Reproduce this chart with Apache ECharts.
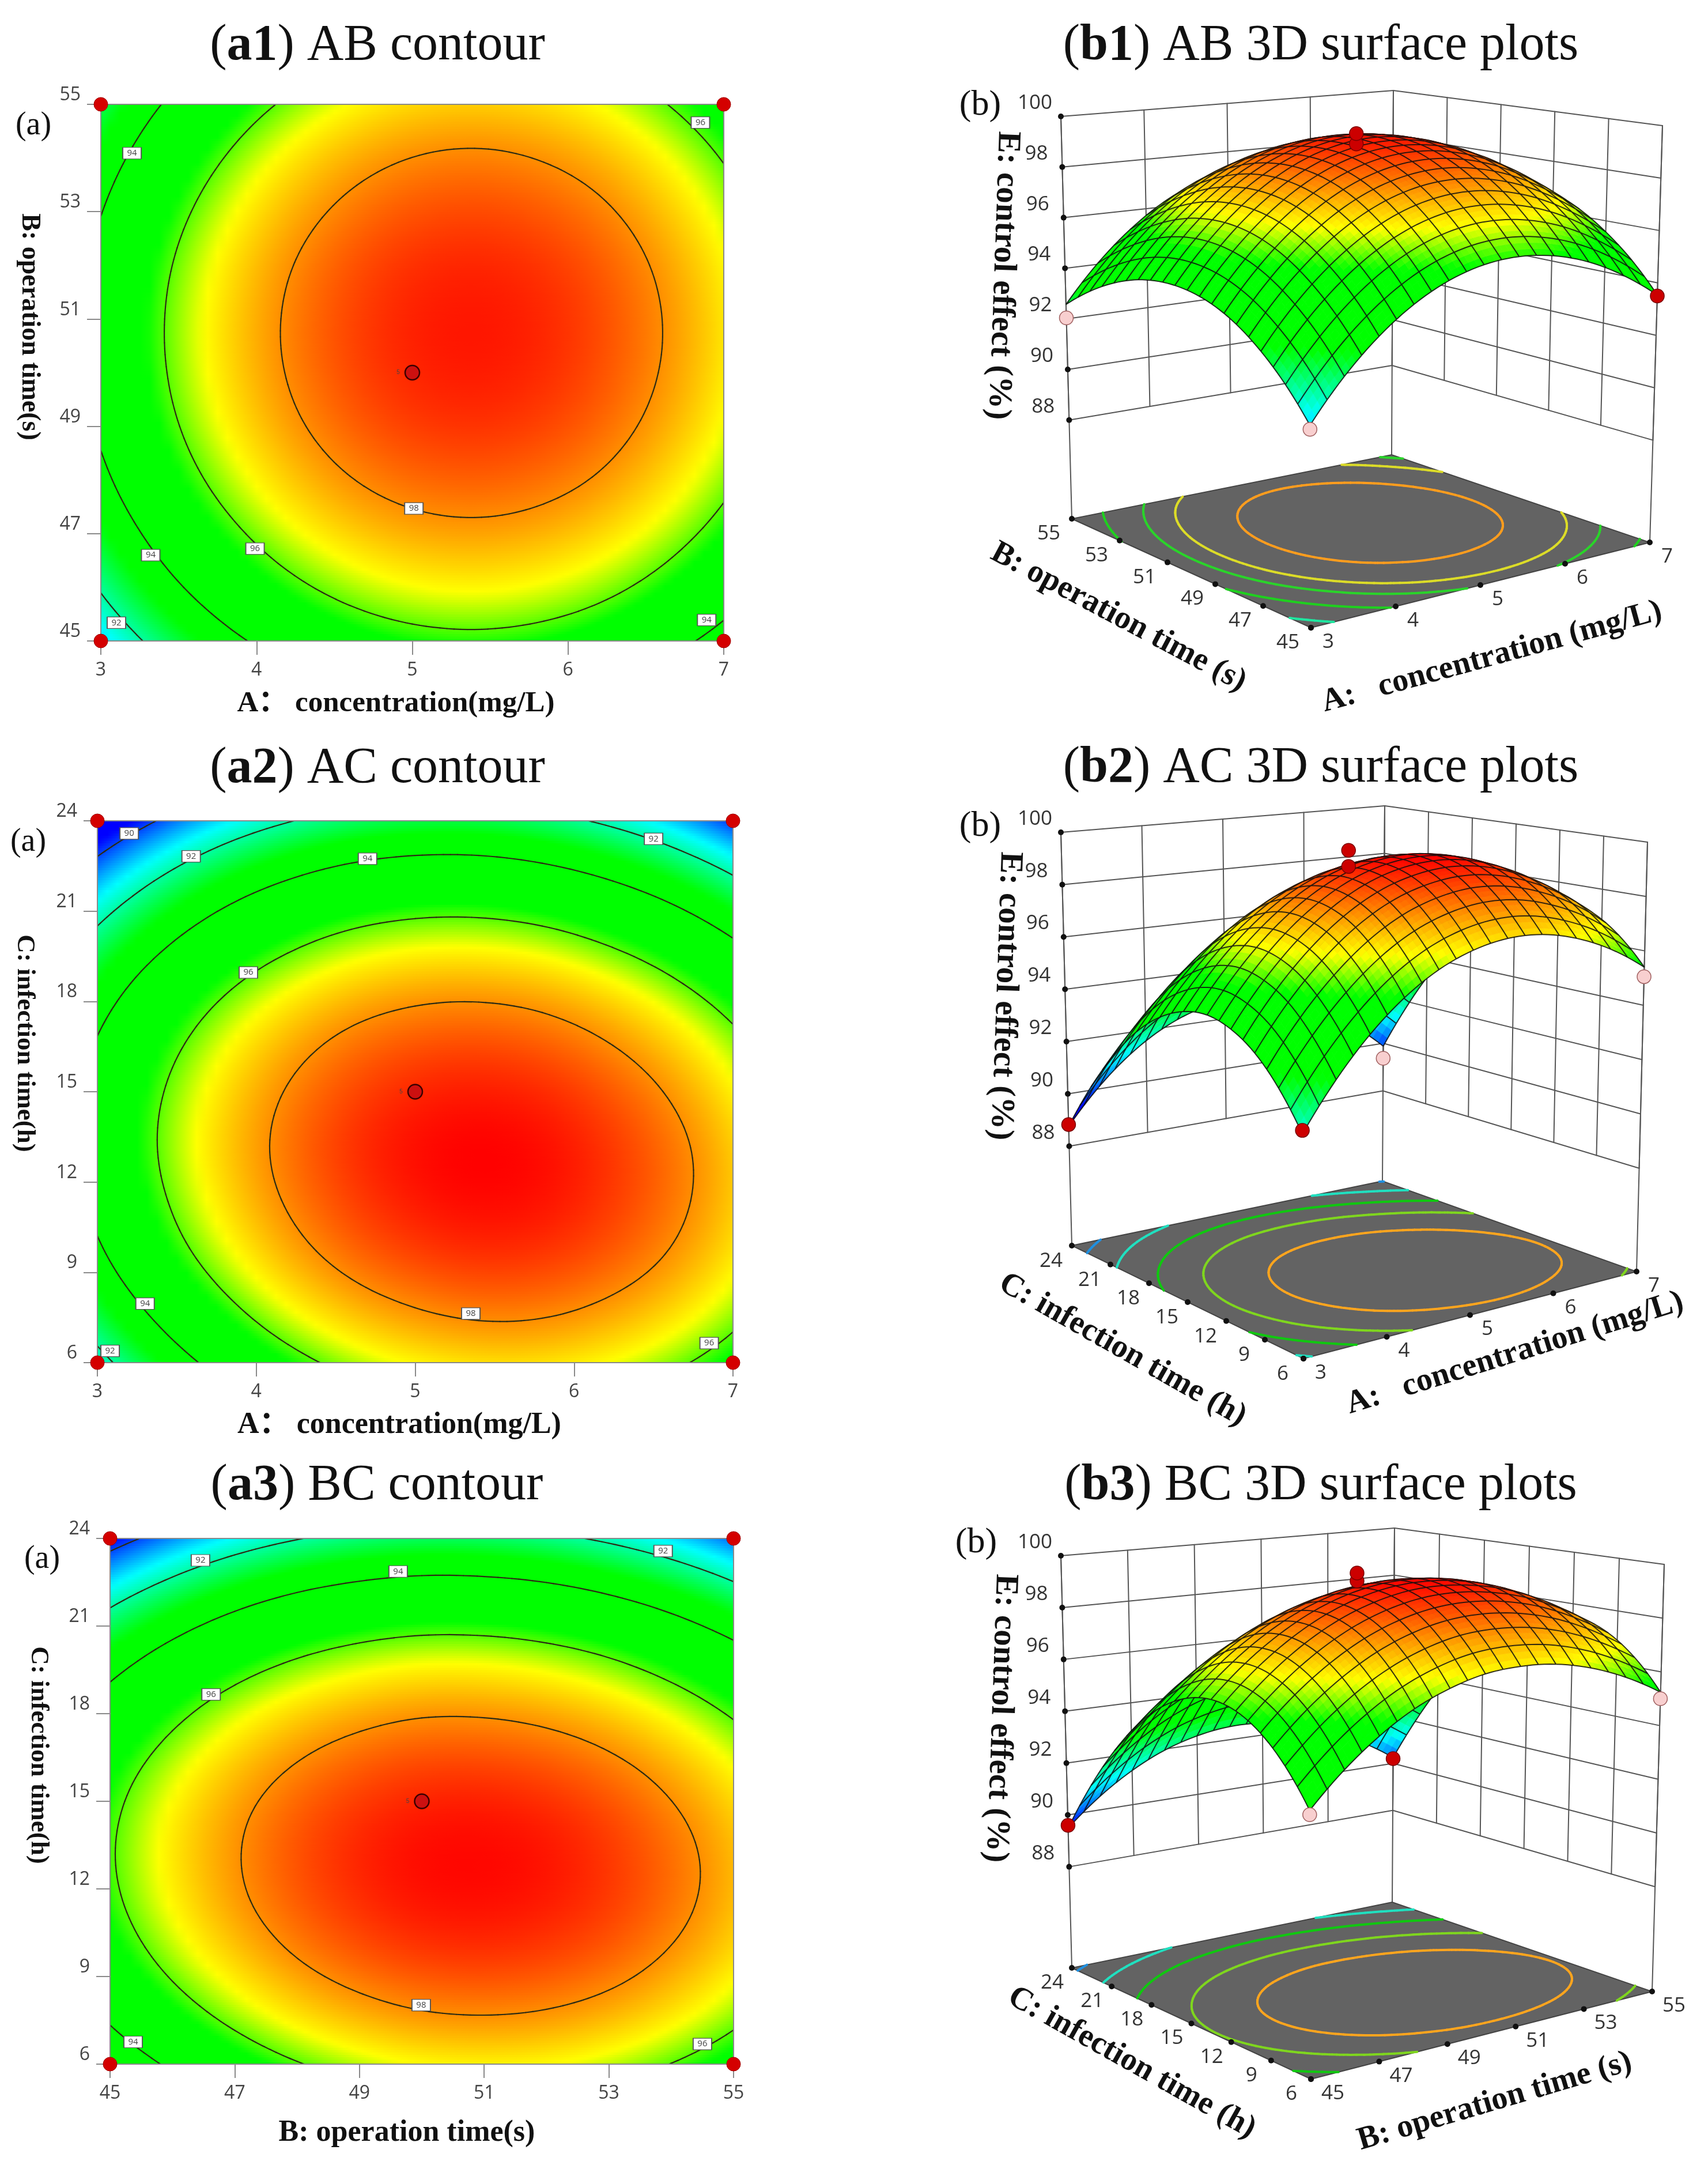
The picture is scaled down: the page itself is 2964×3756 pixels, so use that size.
<!DOCTYPE html>
<html><head><meta charset="utf-8">
<script src="https://cdn.jsdelivr.net/npm/echarts@6/dist/echarts.min.js"></script>
<style>html,body{margin:0;padding:0;background:#fff}#c{width:2964px;height:3756px}</style></head>
<body><div id="c"></div>
<script>
// ---------- values ----------
const ticksA=[3,4,5,6,7];
const ticksB=[45,47,49,51,53,55];
const ticksC=[6,9,12,15,18,21,24];
const ticksE=[88,90,92,94,96,98,100];
// response E on an 11x11 lattice: rows go up the second factor, columns along the first
const gridAB=[
[90.98,92.45,93.64,94.57,95.23,95.62,95.74,95.59,95.18,94.49,93.54],
[92.11,93.58,94.77,95.70,96.36,96.75,96.87,96.72,96.31,95.62,94.67],
[93.01,94.48,95.67,96.60,97.26,97.65,97.77,97.62,97.21,96.52,95.57],
[93.71,95.18,96.37,97.30,97.96,98.35,98.47,98.32,97.91,97.22,96.27],
[94.19,95.66,96.85,97.78,98.44,98.83,98.95,98.80,98.39,97.70,96.75],
[94.45,95.92,97.11,98.04,98.70,99.09,99.21,99.06,98.65,97.96,97.01],
[94.50,95.97,97.16,98.09,98.75,99.14,99.26,99.11,98.70,98.01,97.06],
[94.34,95.81,97.00,97.93,98.59,98.98,99.10,98.95,98.54,97.85,96.90],
[93.96,95.43,96.62,97.55,98.21,98.60,98.72,98.57,98.16,97.47,96.52],
[93.37,94.84,96.03,96.96,97.62,98.01,98.13,97.98,97.57,96.88,95.93],
[92.57,94.04,95.23,96.16,96.82,97.21,97.33,97.18,96.77,96.08,95.13]];
const gridAC=[
[91.58,93.18,94.51,95.57,96.36,96.87,97.12,97.10,96.80,96.24,95.40],
[92.84,94.41,95.71,96.75,97.51,97.99,98.22,98.17,97.84,97.26,96.39],
[93.77,95.32,96.59,97.60,98.34,98.79,98.99,98.91,98.56,97.95,97.05],
[94.34,95.86,97.11,98.09,98.80,99.23,99.40,99.30,98.92,98.28,97.36],
[94.59,96.08,97.30,98.25,98.94,99.34,99.48,99.35,98.94,98.28,97.33],
[94.47,95.94,97.13,98.06,98.71,99.09,99.20,99.05,98.61,97.92,96.94],
[94.02,95.46,96.63,97.53,98.16,98.50,98.59,98.41,97.95,97.23,96.23],
[93.23,94.64,95.78,96.65,97.25,97.57,97.63,97.43,96.94,96.19,95.16],
[92.08,93.46,94.58,95.42,96.00,96.29,96.32,96.09,95.57,94.80,93.74],
[90.59,91.95,93.04,93.85,94.40,94.67,94.68,94.41,93.87,93.07,91.99],
[88.76,90.09,91.15,91.94,92.46,92.70,92.68,92.39,91.82,90.99,89.88]];
const gridBC=[
[93.04,94.21,95.17,95.93,96.46,96.80,96.90,96.81,96.50,95.98,95.24],
[94.29,95.45,96.40,97.14,97.66,97.98,98.07,97.96,97.64,97.10,96.35],
[95.18,96.33,97.26,97.99,98.50,98.80,98.88,98.75,98.42,97.86,97.10],
[95.72,96.85,97.77,98.48,98.97,99.26,99.32,99.18,98.84,98.27,97.49],
[95.90,97.02,97.92,98.62,99.10,99.37,99.42,99.27,98.90,98.32,97.53],
[95.72,96.83,97.72,98.40,98.86,99.12,99.16,98.99,98.61,98.01,97.21],
[95.19,96.27,97.15,97.82,98.27,98.52,98.53,98.35,97.96,97.35,96.53],
[94.30,95.37,96.24,96.89,97.32,97.56,97.56,97.36,96.96,96.33,95.49],
[93.05,94.11,94.96,95.60,96.02,96.24,96.23,96.02,95.60,94.95,94.10],
[91.45,92.49,93.33,93.95,94.35,94.56,94.53,94.31,93.87,93.22,92.35],
[89.49,90.52,91.34,91.95,92.34,92.53,92.49,92.25,91.80,91.13,90.25]];
const levelsAB=[92,94,96,98];
const levelsAC=[90,92,94,96,98];
const levelsBC=[90,92,94,96,98];
const labelsAB=[[3.2,54.09,94],[6.85,54.66,96],[5.01,47.47,98],[3.99,46.72,96],[3.32,46.6,94],[3.1,45.34,92],[6.89,45.39,94]];
const labelsAC=[[3.2,23.58,90],[3.59,22.82,92],[4.7,22.74,94],[6.5,23.4,92],[3.95,18.96,96],[5.35,7.63,98],[3.3,7.96,94],[3.08,6.39,92],[6.85,6.65,96]];
const labelsBC=[[46.45,23.25,92],[49.62,22.87,94],[53.87,23.57,92],[46.62,18.66,96],[49.99,8.02,98],[45.37,6.76,94],[54.5,6.69,96]];
const floorLevelsAB=[92,94,95.5,96.5,98];
const floorLevelsAC=[90,92,94,95.8,97.75];
const floorLevelsBC=[90,92,94,96,97.75];
// design points on the 3D plots: first factor, second factor, E, above the surface (1) or below (0)
const pointsAB=[[5,50,99.2,1],[5,50,99.6,1],[3,45,90.85,0],[3,55,92.04,0],[7,45,93.5,1]];
const pointsAC=[[5,15,99.0,1],[5,15,99.6,1],[3,6,91.7,1],[3,24,88.83,1],[7,6,95.05,0],[7,24,89.37,0]];
const pointsBC=[[50,15,99.3,1],[50,15,99.6,1],[45,6,92.9,0],[45,24,89.6,1],[55,6,95.0,0],[55,24,90.2,1]];

// ---------- colour scale ----------
const stops=[[89.5,[0,0,255]],[91.3,[0,255,255]],[93.2,[0,255,0]],[95.6,[0,255,0]],[96.8,[255,255,0]],[99.5,[255,0,0]]];
function colorOf(v){
  if(v<=stops[0][0])return 'rgb(0,0,255)';
  for(let i=1;i<stops.length;i++){
    if(v<=stops[i][0]){
      const t=(v-stops[i-1][0])/(stops[i][0]-stops[i-1][0]),a=stops[i-1][1],b=stops[i][1];
      return 'rgb('+[0,1,2].map(k=>Math.round(a[k]+(b[k]-a[k])*t)).join(',')+')';
    }
  }
  return 'rgb(255,0,0)';
}
// ---------- smooth shading between lattice values ----------
function gv(g,i,j){
  if(j<0)return 3*gv(g,i,0)-3*gv(g,i,1)+gv(g,i,2);
  if(j>10)return 3*gv(g,i,10)-3*gv(g,i,9)+gv(g,i,8);
  if(i<0)return 3*g[j][0]-3*g[j][1]+g[j][2];
  if(i>10)return 3*g[j][10]-3*g[j][9]+g[j][8];
  return g[j][i];
}
function cr(a,b,c,d,t){return b+.5*t*(c-a+t*(2*a-5*b+4*c-d+t*(3*(b-c)+d-a)));}
function field(g,u,v){
  const fx=Math.min(u*10,9.9999),fy=Math.min(v*10,9.9999),i=Math.floor(fx),j=Math.floor(fy),tx=fx-i,ty=fy-j;
  const r=[];
  for(let k=-1;k<=2;k++)r.push(cr(gv(g,i-1,j+k),gv(g,i,j+k),gv(g,i+1,j+k),gv(g,i+2,j+k),tx));
  return cr(r[0],r[1],r[2],r[3],ty);
}
function isoSegments(g,lvl,n){
  const level=lvl+0.00137; // keeps a lattice value from sitting exactly on the level
  const seg=[],val=[];
  for(let j=0;j<=n;j++){val.push([]);for(let i=0;i<=n;i++)val[j].push(field(g,i/n,j/n));}
  for(let j=0;j<n;j++)for(let i=0;i<n;i++){
    const a=val[j][i],b=val[j][i+1],c=val[j+1][i+1],d=val[j+1][i],p=[];
    const u0=i/n,u1=(i+1)/n,v0=j/n,v1=(j+1)/n;
    if((a-level)*(b-level)<0)p.push([u0+(level-a)/(b-a)/n,v0]);
    if((b-level)*(c-level)<0)p.push([u1,v0+(level-b)/(c-b)/n]);
    if((d-level)*(c-level)<0)p.push([u0+(level-d)/(c-d)/n,v1]);
    if((a-level)*(d-level)<0)p.push([u0,v0+(level-a)/(d-a)/n]);
    if(p.length>=2)seg.push([p[0],p[1]]);
    if(p.length===4)seg.push([p[2],p[3]]);
  }
  return seg;
}
// ---------- layout ----------
const serif='"Liberation Serif","Noto Sans CJK SC",serif';
const sans='"Open Sans","Noto Sans",sans-serif';
const RED='#d40000';
const panels2d=[
 {g:gridAB,levels:levelsAB,labels:labelsAB,xt:ticksA,yt:ticksB,box:[175,181,1256,1112],center:[5,50]},
 {g:gridAC,levels:levelsAC,labels:labelsAC,xt:ticksA,yt:ticksC,box:[169,1424,1272,2364],center:[5,15]},
 {g:gridBC,levels:levelsBC,labels:labelsBC,xt:ticksB,yt:ticksC,box:[191,2669,1273,3581],center:[50,15]}
];
const panels3d=[
 {g:gridAB,ut:ticksA,vt:ticksB,pts:pointsAB,levels:floorLevelsAB,zf:84.1,
  colors:['#1fe6a0','#1fd01f','#2ad42a','#dcdc28','#ff9d1e'],
  F0:[2275,1089],R0:[2863,941],L0:[1860,900],K0:[2415,789],F1:[2271,278],R1:[2885,218],L1:[1841,202],K1:[2418,157],
  uo:[30,25],vo:[-40,26]},
 {g:gridAC,ut:ticksA,vt:ticksC,pts:pointsAC,levels:floorLevelsAC,zf:84.2,
  colors:['#2090e0','#20e0c0','#10c810','#7fd61e','#ffa51e'],
  F0:[2262,2357],R0:[2840,2206],L0:[1860,2161],K0:[2399,2049],F1:[2258,1523],R1:[2859,1461],L1:[1841,1444],K1:[2403,1398],
  uo:[30,25],vo:[-36,27]},
 {g:gridBC,ut:ticksB,vt:ticksC,pts:pointsBC,levels:floorLevelsBC,zf:84.1,
  colors:['#2090e0','#20e0c0','#10c810','#7fd61e','#ffa51e'],
  F0:[2275,3607],R0:[2867,3455],L0:[1860,3414],K0:[2416,3300],F1:[2271,2778],R1:[2888,2714],L1:[1841,2699],K1:[2420,2651],
  uo:[38,25],vo:[-34,26]}
];
function texts(){
  const T=(text,x,y,size,deg,bold,rich)=>({type:'text',x,y,rotation:(deg||0)*Math.PI/180,z:50,
    style:{text,fontFamily:serif,fontSize:size,fontWeight:bold?'bold':'normal',fill:'#111',align:'center',verticalAlign:'middle',rich}});
  const title=(tag,rest,x,y)=>T('({b|'+tag+'}) '+rest,x,y,88,0,false,{b:{fontFamily:serif,fontSize:88,fontWeight:'bold',fill:'#111'}});
  return [
   title('a1','AB contour',655,80),title('a2','AC contour',655,1334),title('a3','BC contour',654,2578),
   title('b1','AB 3D surface plots',2292,80),title('b2','AC 3D surface plots',2292,1333),title('b3','BC 3D surface plots',2292,2578),
   T('(a)',58,218,56),T('(a)',49,1461,56),T('(a)',73,2705,56),
   T('(b)',1701,183,62),T('(b)',1701,1434,62),T('(b)',1694,2677,62),
   T('B: operation time(s)',51,567,46,-90,true),T('A： concentration(mg/L)',687,1221,51,0,true),
   T('C: infection time(h)',43,1810,45,-90,true),T('A： concentration(mg/L)',693,2473,52,0,true),
   T('C: infection time(h)',67,3045,45,-90,true),T('B: operation time(s)',706,3701,52,0,true),
   T('E: control effect (%)',1740,478,57,-92,true),T('E: control effect (%)',1744,1728,57,-92,true),T('E: control effect (%)',1736,2981,57,-92,true),
   T('B: operation time (s)',1941,1071,56,-28,true),T('A:   concentration (mg/L)',2589,1140,56,15.3,true),
   T('C: infection time (h)',1948,2342,56,-29.6,true),T('A:   concentration (mg/L)',2629,2348,56,17.3,true),
   T('C: infection time (h)',1964,3579,56,-29.3,true),T('B: operation time (s)',2594,3646,56,16.4,true)
  ];
}
// ---------- option ----------
const grids=[],xAxes=[],yAxes=[],series=[];
panels2d.forEach((p,k)=>{
  const [L,T,R,B]=p.box;
  const xMin=p.xt[0],xMax=p.xt[p.xt.length-1],yMin=p.yt[0],yMax=p.yt[p.yt.length-1];
  grids.push({left:L,top:T,width:R-L,height:B-T,show:true,borderColor:'#8a8a8a',borderWidth:2,backgroundColor:'rgba(0,0,0,0)',z:5});
  const ax=(vals)=>({type:'value',scale:true,splitLine:{show:false},
    axisLine:{show:true,onZero:false,lineStyle:{color:'#8a8a8a',width:2}},
    axisTick:{show:true,length:24,customValues:vals,lineStyle:{color:'#8a8a8a',width:2}},
    axisLabel:{customValues:vals,margin:35,color:'#444',fontFamily:sans,fontSize:32,showMinLabel:true,showMaxLabel:true}});
  const xa=ax(p.xt);xa.min=xMin;xa.max=xMax;xa.gridIndex=k;xa.z=6;
  const ya=ax(p.yt);ya.min=yMin;ya.max=yMax;ya.gridIndex=k;ya.z=6;ya.axisLabel.verticalAlign='bottom';
  xAxes.push(xa);yAxes.push(ya);
  const strips=[];const NS=220,STOPS=64;
  for(let s=0;s<NS;s++)strips.push([s]);
  series.push({type:'custom',xAxisIndex:k,yAxisIndex:k,coordinateSystem:'cartesian2d',z:2,clip:true,animation:false,silent:true,progressive:0,
    data:strips,encode:{x:[],y:[]},
    renderItem(params,api){
      const s=api.value(0),v0=s/NS,v1=(s+1)/NS,vm=(v0+v1)/2;
      const a=api.coord([xMin,yMin+(yMax-yMin)*v1]),b=api.coord([xMax,yMin+(yMax-yMin)*v0]);
      const cs=[];for(let i=0;i<=STOPS;i++)cs.push({offset:i/STOPS,color:colorOf(field(p.g,i/STOPS,vm))});
      return {type:'rect',shape:{x:a[0],y:a[1]-.6,width:b[0]-a[0],height:b[1]-a[1]+1.2},
        style:{fill:new echarts.graphic.LinearGradient(0,0,1,0,cs)}};
    }});
  series.push({type:'custom',xAxisIndex:k,yAxisIndex:k,coordinateSystem:'cartesian2d',z:3,clip:true,animation:false,silent:true,progressive:0,
    data:p.levels.map(l=>[l]),encode:{x:[],y:[]},
    renderItem(params,api){
      const level=api.value(0);
      const ch=isoSegments(p.g,level,90).map(s=>{
        const a=api.coord([xMin+(xMax-xMin)*s[0][0],yMin+(yMax-yMin)*s[0][1]]);
        const b=api.coord([xMin+(xMax-xMin)*s[1][0],yMin+(yMax-yMin)*s[1][1]]);
        return {type:'line',shape:{x1:a[0],y1:a[1],x2:b[0],y2:b[1]},style:{stroke:'#2c2c14',lineWidth:2.2,lineCap:'round'}};
      });
      return {type:'group',children:ch};
    }});
  series.push({type:'scatter',xAxisIndex:k,yAxisIndex:k,z:7,silent:true,animation:false,symbol:'rect',symbolSize:[32,20],
    itemStyle:{color:'#fff',borderColor:'#555',borderWidth:1.5,opacity:1},
    label:{show:true,position:'inside',formatter:q=>q.value[2],fontSize:15,color:'#444',fontFamily:sans},
    data:p.labels});
  series.push({type:'scatter',xAxisIndex:k,yAxisIndex:k,z:8,silent:true,animation:false,clip:false,symbol:'circle',symbolSize:24,
    itemStyle:{color:RED,borderColor:'#a00000',borderWidth:1,opacity:1},
    data:[[xMin,yMin],[xMin,yMax],[xMax,yMin],[xMax,yMax]]});
  series.push({type:'scatter',xAxisIndex:k,yAxisIndex:k,z:8,silent:true,animation:false,symbol:'circle',symbolSize:25,
    itemStyle:{color:'#cc1010',borderColor:'#3a0000',borderWidth:2.5,opacity:1},
    label:{show:true,position:'left',formatter:'5',fontSize:10,color:'#444',distance:8},
    data:[p.center]});
});
// a hidden full-page cartesian grid carries the projected 3D marks
const PX=panels2d.length;
grids.push({left:0,top:0,width:2964,height:3756,show:false});
xAxes.push({type:'value',min:0,max:2964,show:false,gridIndex:PX});
yAxes.push({type:'value',min:0,max:3756,inverse:true,show:false,gridIndex:PX});
function projector(p){
  return (u,v,z)=>{
    const w=(z-p.zf)/(100-p.zf),a=(1-u)*(1-v),b=u*(1-v),c=(1-u)*v,d=u*v;
    const f=i=>(1-w)*(a*p.F0[i]+b*p.R0[i]+c*p.L0[i]+d*p.K0[i])+w*(a*p.F1[i]+b*p.R1[i]+c*p.L1[i]+d*p.K1[i]);
    return [f(0),f(1)];
  };
}
panels3d.forEach(p=>{
  const P=projector(p);
  const uMin=p.ut[0],uMax=p.ut[p.ut.length-1],vMin=p.vt[0],vMax=p.vt[p.vt.length-1];
  const fu=t=>(t-uMin)/(uMax-uMin),fv=t=>(t-vMin)/(vMax-vMin);
  const base={type:'custom',xAxisIndex:PX,yAxisIndex:PX,coordinateSystem:'cartesian2d',clip:false,animation:false,silent:true,progressive:0,encode:{x:[],y:[]}};
  // walls, floor, floor contours
  series.push(Object.assign({},base,{z:20,data:[[0]],renderItem(params,api){
    const C=(u,v,z)=>api.coord(P(u,v,z));
    const ch=[];
    const L=(a,b,c,w)=>ch.push({type:'line',shape:{x1:a[0],y1:a[1],x2:b[0],y2:b[1]},style:{stroke:c||'#555',lineWidth:w||2,lineCap:'round'}});
    ticksE.forEach(z=>{L(C(0,1,z),C(1,1,z));L(C(1,1,z),C(1,0,z));});
    p.ut.forEach(t=>L(C(fu(t),1,88),C(fu(t),1,100)));
    p.vt.forEach(t=>L(C(1,fv(t),88),C(1,fv(t),100)));
    L(C(0,1,p.zf),C(0,1,100));L(C(1,1,p.zf),C(1,1,100));L(C(1,0,p.zf),C(1,0,100));
    ch.push({type:'polygon',shape:{points:[C(0,0,p.zf),C(1,0,p.zf),C(1,1,p.zf),C(0,1,p.zf)]},style:{fill:'#636363',stroke:'#444',lineWidth:2}});
    p.levels.forEach((lv,i)=>{
      isoSegments(p.g,lv,80).forEach(s=>L(C(s[0][0],s[0][1],p.zf),C(s[1][0],s[1][1],p.zf),p.colors[i],4));
    });
    const dot=q=>ch.push({type:'circle',shape:{cx:q[0],cy:q[1],r:5},style:{fill:'#111'}});
    ticksE.forEach(z=>dot(C(0,1,z)));
    p.ut.forEach(t=>dot(C(fu(t),0,p.zf)));
    p.vt.forEach(t=>dot(C(0,fv(t),p.zf)));
    return {type:'group',children:ch};
  }}));
  // surface, back to front
  const NC=20,SUB=3,cells=[];
  for(let j=0;j<NC;j++)for(let i=0;i<NC;i++)cells.push([i,j]);
  cells.sort((a,b)=>(b[0]+b[1])-(a[0]+a[1]));
  series.push(Object.assign({},base,{z:21,data:cells,renderItem(params,api){
    const i=api.value(0),j=api.value(1),ch=[];
    const S=(u,v)=>api.coord(P(u,v,field(p.g,u,v)));
    for(let a=0;a<SUB;a++)for(let b=0;b<SUB;b++){
      const u0=(i+a/SUB)/NC,u1=(i+(a+1)/SUB)/NC,v0=(j+b/SUB)/NC,v1=(j+(b+1)/SUB)/NC;
      const col=colorOf(field(p.g,(u0+u1)/2,(v0+v1)/2));
      ch.push({type:'polygon',shape:{points:[S(u0,v0),S(u1,v0),S(u1,v1),S(u0,v1)]},style:{fill:col,stroke:col,lineWidth:.8}});
    }
    const E=(f)=>{const pts=[];for(let t=0;t<=SUB;t++)pts.push(f(t/SUB));
      ch.push({type:'polyline',shape:{points:pts},style:{stroke:'rgba(15,15,15,.85)',lineWidth:2,fill:null}});};
    const U=(i+1)/NC,V=(j+1)/NC;
    E(t=>S(U,(j+t)/NC));E(t=>S((i+t)/NC,V));
    if(i===0)E(t=>S(0,(j+t)/NC));
    if(j===0)E(t=>S((i+t)/NC,0));
    return {type:'group',children:ch};
  }}));
  // design points
  series.push(Object.assign({},base,{z:22,data:p.pts,renderItem(params,api){
    const q=api.coord(P(fu(api.value(0)),fv(api.value(1)),api.value(2))),up=api.value(3);
    return {type:'circle',shape:{cx:q[0],cy:q[1],r:12},style:{fill:up?'#cc0000':'#f8cfcf',stroke:up?'#7a0000':'#a06060',lineWidth:1.5}};
  }}));
  // tick labels
  const lab=[];
  ticksE.forEach(z=>lab.push([0,1,z,z,-45,-23]));
  p.ut.forEach(t=>lab.push([fu(t),0,p.zf,t,p.uo[0],p.uo[1]]));
  p.vt.forEach(t=>lab.push([0,fv(t),p.zf,t,p.vo[0],p.vo[1]]));
  series.push(Object.assign({},base,{z:23,data:lab,renderItem(params,api){
    const q=api.coord(P(api.value(0),api.value(1),api.value(2)));
    return {type:'text',x:q[0]+api.value(4),y:q[1]+api.value(5),
      style:{text:String(api.value(3)),fontFamily:sans,fontSize:35,fill:'#333',align:'center',verticalAlign:'middle'}};
  }}));
});
const chart=echarts.init(document.getElementById('c'),null,{renderer:'canvas',width:2964,height:3756});
chart.setOption({animation:false,backgroundColor:'#fff',grid:grids,xAxis:xAxes,yAxis:yAxes,series,graphic:{elements:texts()}});
</script></body></html>
